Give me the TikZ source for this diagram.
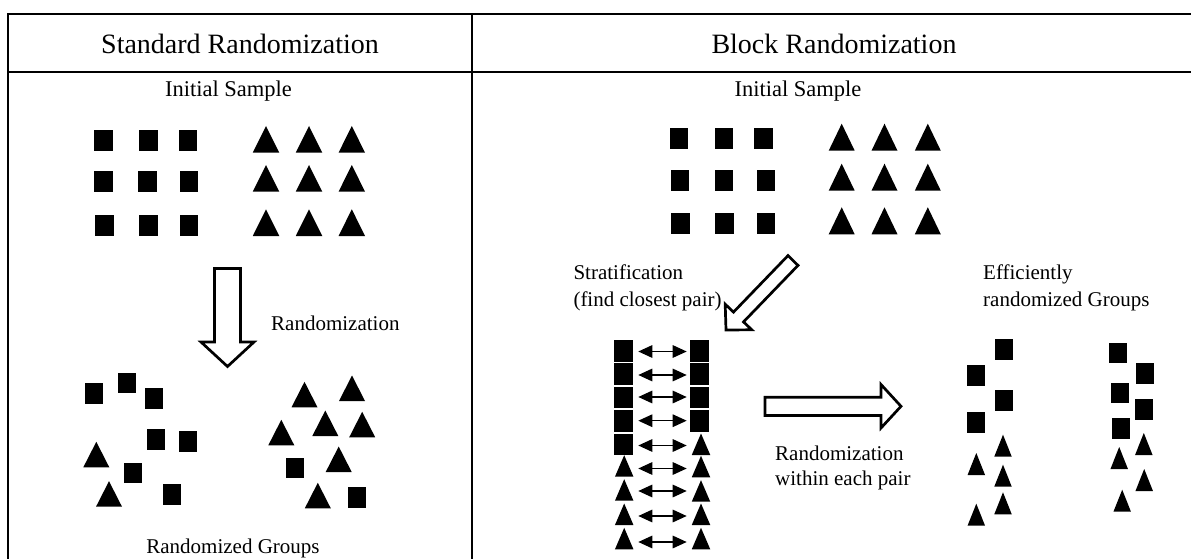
\documentclass[tikz,border=0pt]{standalone}
\usepackage{fontspec}
\setmainfont{Liberation Serif}
\usetikzlibrary{arrows.meta}
% filled triangle: base centre (x, ybase), width, height (y grows downward)
\newcommand\trgl[4]{\fill ({#1-#3/2},#2) -- ({#1+#3/2},#2) -- (#1,{#2-#4}) -- cycle;}
\begin{document}
\begin{tikzpicture}[x=1pt, y=-1pt,
  frame/.style={line width=2pt, line join=miter},
  hdr/.style={font=\fontsize{28}{34}\selectfont, inner sep=0pt},
  lbl/.style={font=\fontsize{21}{27}\selectfont, inner sep=0pt, align=left},
  ilbl/.style={font=\fontsize{22.5}{27}\selectfont, inner sep=0pt},
  sqA/.style={fill=black, draw=none, inner sep=0pt, minimum width=18.5pt, minimum height=21pt},
  sqB/.style={fill=black, draw=none, inner sep=0pt, minimum width=18.7pt, minimum height=21.7pt},
  sqC/.style={fill=black, draw=none, inner sep=0pt, minimum width=18pt, minimum height=20.7pt},
  bigarrow/.style={draw=black, fill=white, line width=2.7pt, line join=miter},
  pairarrow/.style={{Triangle[length=14pt,width=12.5pt]}-{Triangle[length=14pt,width=12.5pt]}, line width=1.4pt}]
\useasboundingbox (0,0) rectangle (1191,559);
\fill[white] (0,0) rectangle (1191,559);

% table frame
\draw[frame] (8,575) -- (8,14) -- (1200,14);
\draw[frame] (8,72.3) -- (1200,72.3);
\draw[frame] (472.3,14) -- (472.3,575);

% headers and labels (multi-line nodes: base = baseline of last line)
\node[hdr, anchor=base] (hstd) at (240,54) {Standard Randomization};
\node[hdr, anchor=base] (hblk) at (834,54) {Block Randomization};
\node[ilbl, anchor=base] (is1) at (228.5,96.7) {Initial Sample};
\node[ilbl, anchor=base] (is2) at (798,96.7) {Initial Sample};
\node[lbl, anchor=base west] (rnd) at (271,330) {Randomization};
\node[lbl, anchor=base] (rg) at (233,553) {Randomized Groups};
\node[lbl, anchor=base west, font=\fontsize{21}{27.5}\selectfont] (strat) at (573.3,306.7) {Stratification\\(find closest pair)};
\node[lbl, anchor=base west, font=\fontsize{21}{27}\selectfont] (eff) at (983,306.7) {Efficiently\\randomized Groups};
\node[lbl, anchor=base west, font=\fontsize{21}{25}\selectfont] (rwp) at (775,485) {Randomization\\within each pair};

% ---- left: initial sample
\foreach \x/\y [count=\i] in {103.3/140.7,148.3/140.7,188/140.7,103.3/181.3,147.3/181.3,189/181.3,104.5/225,148.7/225,189/225}{
  \node[sqA] (ls\i) at (\x,\y) {};
}
\foreach \y in {152.7,191.7,236}{
  \trgl{266}{\y}{26.5}{26.7}
  \trgl{309}{\y}{26.5}{26.7}
  \trgl{351.8}{\y}{26.5}{26.7}
}

% ---- right: initial sample
\foreach \x/\y [count=\i] in {678.8/138.8,723.8/138.8,763.7/138.8,680/180,723.8/180,766/180,680.3/223.3,724.5/223.3,766/223.3}{
  \node[sqA] (rs\i) at (\x,\y) {};
}
\foreach \y in {150.7,190.7,234.3}{
  \trgl{841.7}{\y}{26}{27}
  \trgl{884.5}{\y}{26}{27}
  \trgl{927.8}{\y}{26}{27}
}

% ---- left: randomization arrow
\draw[bigarrow] (214.5,268.5) -- (240.5,268.5) -- (240.5,342) -- (254,342)
  -- (227.5,366.5) -- (201,342) -- (214.5,342) -- cycle;

% ---- left: randomized groups
\foreach \x/\y [count=\i] in {93.7/393.2,126.8/383,153.8/398.2,155.5/439.7,188.2/441.3,133.3/473,172/494.7,295/468,357/497.7}{
  \node[sqC] (gs\i) at (\x,\y) {};
}
\foreach \x/\y in {96.3/467.3,109/506.7,304.5/407.3,352/401,325.3/436,362.2/437.3,281.3/445.3,338.7/472,317.8/508.3}{
  \trgl{\x}{\y}{26}{25.5}
}

% ---- stratification arrow (diagonal)
\draw[bigarrow] (725.2,304.2) -- (733.5,312.1) -- (788,255.6) -- (798,265.4)
  -- (743.5,321.9) -- (751.8,329.8) -- (726,330) -- cycle;

% ---- pair columns
\foreach \y [count=\i] in {350.8,374.2,397.5,420.8,444.5}{
  \node[sqB] (pl\i) at (623.3,\y) {};
}
\foreach \y in {476.7,500.7,525,549.3}{
  \trgl{624.2}{\y}{18.5}{21.5}
}
\foreach \y [count=\i] in {350.8,374.2,397.5,420.8}{
  \node[sqB] (pr\i) at (699.5,\y) {};
}
\foreach \y in {455,477.3,501.7,525,549.3}{
  \trgl{701}{\y}{18.5}{21.5}
}
\foreach \y [count=\i] in {351.5,375,397,420.7,445.5,468.5,491,516,542}{
  \coordinate (al\i) at (638.3,\y);
  \coordinate (ar\i) at (686.7,\y);
  \draw[pairarrow] (al\i) -- (ar\i);
}

% ---- randomization within pair arrow
\draw[bigarrow] (765,397.2) -- (881,397.2) -- (881,384.5) -- (901,406.3)
  -- (881,428) -- (881,415.5) -- (765,415.5) -- cycle;

% ---- efficiently randomized groups
\foreach \x/\y [count=\i] in {1003.8/349.7,976.3/375.3,1003.8/400.3,976.3/422.5,1117.5/353,1144.7/373.7,1119.7/393,1143.8/409.7,1120.8/428.7}{
  \node[sqC] (es\i) at (\x,\y) {};
}
\foreach \x/\y in {1003/456.7,976.3/475,1003/486.7,1003/514.3,976.3/525.7,1143.8/455,1119.2/469,1144.2/491,1122.2/511.7}{
  \trgl{\x}{\y}{17.5}{22}
}
\end{tikzpicture}
\end{document}
